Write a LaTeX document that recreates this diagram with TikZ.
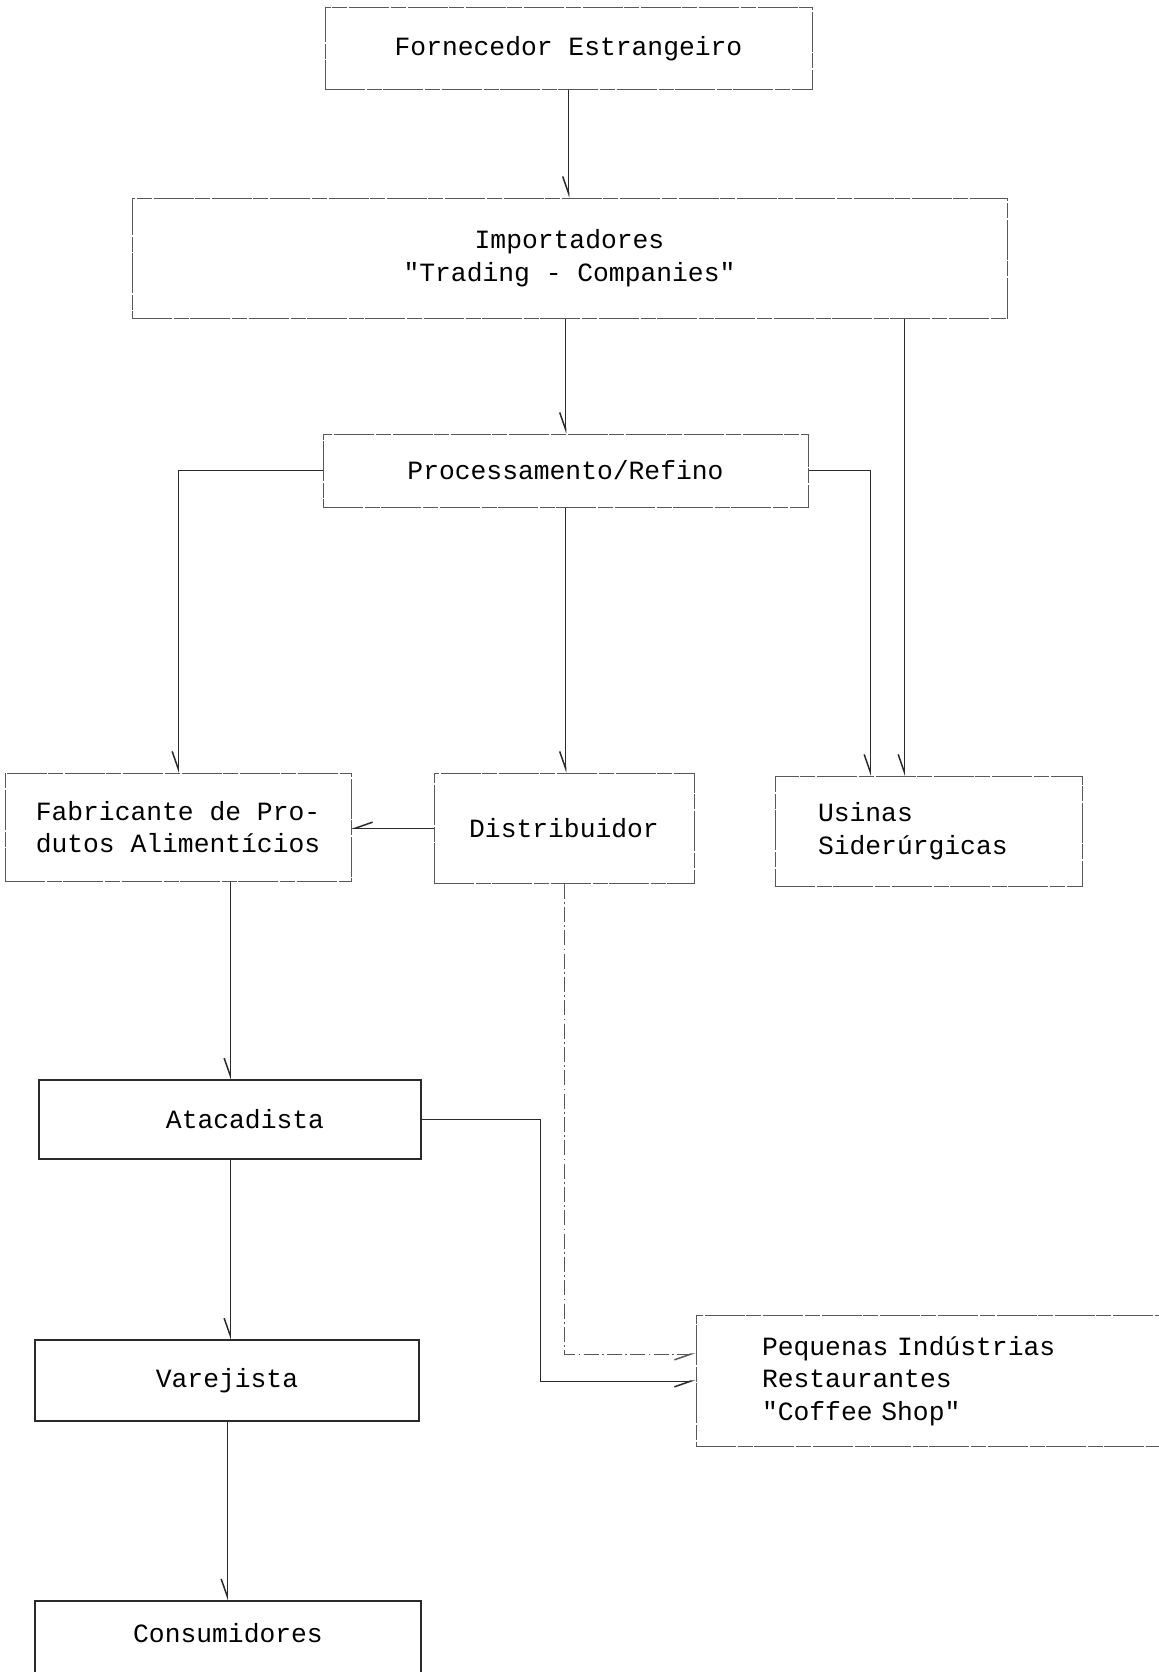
\documentclass[tikz,border=0pt]{standalone}
\usepackage{fontspec}
\setmainfont{Liberation Mono}
\usetikzlibrary{arrows.meta,positioning}
\definecolor{inkline}{HTML}{2A2A2A}
\definecolor{fadeline}{HTML}{585858}
\newcommand{\dq}{\textquotedbl}

\begin{document}
\begin{tikzpicture}[x=0.6pt,y=-0.6pt,
    font=\fontsize{15.8}{19.5}\selectfont,
    faintbox/.style={draw=fadeline,line width=0.6pt,dash pattern=on 24pt off 1.2pt on 9pt off 0.8pt,inner sep=0pt,align=center},
    solidbox/.style={draw=inkline,line width=0.9pt,inner sep=0pt,align=center},
    flow/.style={draw=inkline,line width=0.6pt,-{Straight Barb[right,length=10pt,width=7pt,line width=0.9pt]}},
    dimflow/.style={flow,draw=fadeline,dash pattern=on 9pt off 2pt on 1pt off 2pt}]
  \useasboundingbox (0,0) rectangle (1158,1672);
  % upper chain
  \node[faintbox,minimum width=292.2pt,minimum height=49.2pt] (forn) at (568.5,49) {Fornecedor Estrangeiro};
  \node[faintbox,minimum width=525pt,minimum height=72pt] (imp) at (569.5,258) {Importadores\\\dq Trading - Companies\dq};
  \node[faintbox,minimum width=291pt,minimum height=43.8pt] (proc) at (565.5,470.5) {Processamento/Refino};
  % middle row
  \node[faintbox,minimum width=207.6pt,minimum height=64.8pt] (fab) at (178,827) {Fabricante de Pro-\\dutos Alimentícios};
  \node[faintbox,minimum width=156pt,minimum height=66pt] (dist) at (564,828) {Distribuidor};
  \node[faintbox,minimum width=184.2pt,minimum height=66pt,text width=132.6pt,align=left] (usin) at (928.5,831) {Usinas\\Siderúrgicas};
  % lower part
  \node[solidbox,minimum width=229.2pt,minimum height=47.4pt] (atac) at (230,1119.5) {\hspace*{18pt}Atacadista};
  \node[solidbox,minimum width=230.4pt,minimum height=48.6pt] (varej) at (227,1380.5) {Varejista};
  \node[solidbox,minimum width=231.6pt,text height=25.2pt,text depth=40pt,anchor=north] (cons) at (228,1600) {Consumidores};
  \node[faintbox,minimum width=290.4pt,minimum height=78.6pt,text width=211.2pt,align=left] (pequ) at (938,1381) {Pequenas Indústrias\\Restaurantes\\\dq Coffee Shop\dq};
  \coordinate (usinA) at ([xshift=-14.7pt]usin.north);
  \coordinate (usinB) at ([xshift=-35.1pt]usin.north);

  \draw[flow] (forn.south) -- (forn.south |- imp.north);
  \draw[flow] (imp.south -| proc.north) -- (proc.north);
  \draw[flow] (imp.south -| usinA) -- (usinA);
  \draw[flow] (proc.east) -| (usinB);
  \draw[flow] (proc.west) -| (fab.north);
  \draw[flow] (proc.south) -- (proc.south |- dist.north);
  \draw[flow] (dist.west) -- (dist.west -| fab.east);
  \draw[flow] (fab.south -| atac.north) -- (atac.north);
  \draw[flow] (atac.east) -- ++(119,0) |- (pequ.west);
  \draw[dimflow] (dist.south) |- ([yshift=16.2pt]pequ.west);
  \draw[flow] (atac.south) -- (atac.south |- varej.north);
  \draw[flow] (varej.south) -- (varej.south |- cons.north);
\end{tikzpicture}
\end{document}
